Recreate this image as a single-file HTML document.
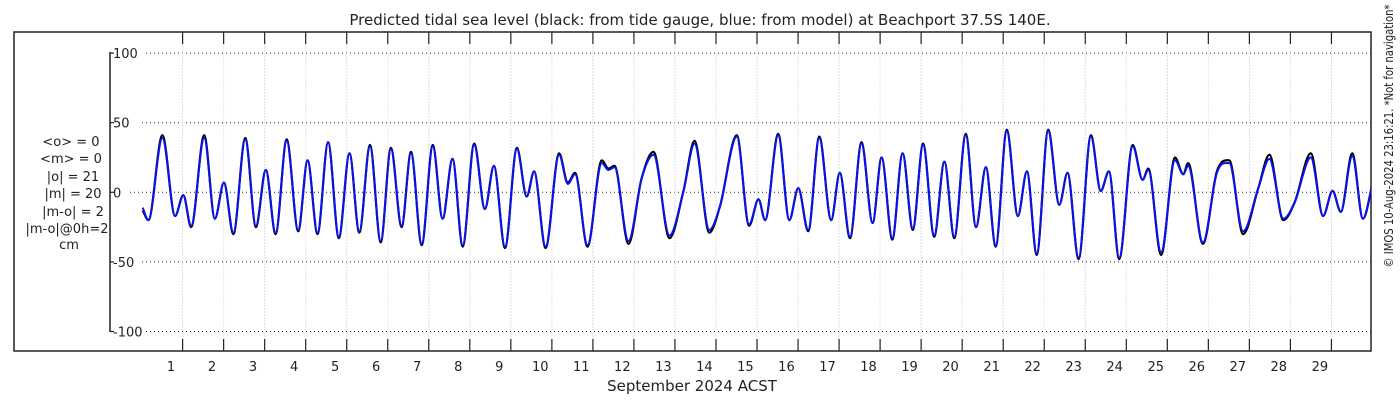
<!DOCTYPE html>
<html><head><meta charset="utf-8"><style>
body{margin:0;background:#fff;}
svg text{font-family:"DejaVu Sans","Liberation Sans",sans-serif;fill:#222;}
</style></head><body>
<svg id="chart" width="1400" height="400" xmlns="http://www.w3.org/2000/svg">
<rect x="0" y="0" width="1400" height="400" fill="#fff"/>
<text x="700" y="25" font-size="15" text-anchor="middle">Predicted tidal sea level (black: from tide gauge, blue: from model) at Beachport 37.5S 140E.</text>
<rect x="14" y="32" width="1357" height="319" fill="none" stroke="#222" stroke-width="1.5"/>
<g id="grid"></g>
<g id="axes"></g>
<clipPath id="clip"><rect x="110" y="32" width="1261" height="319"/></clipPath>
<g id="series" clip-path="url(#clip)"></g>
<g font-size="13" text-anchor="middle">
<text x="71" y="146">&lt;o&gt; = 0</text>
<text x="71" y="163">&lt;m&gt; = 0</text>
<text x="73" y="181">|o| = 21</text>
<text x="73" y="198">|m| = 20</text>
<text x="73" y="216">|m-o| = 2</text>
<text x="67" y="233">|m-o|@0h=2</text>
<text x="69" y="249">cm</text>
</g>
<text x="692" y="391" font-size="15" text-anchor="middle">September 2024 ACST</text>
<text transform="translate(1393,136) rotate(-90)" font-size="12" text-anchor="middle" textLength="263" lengthAdjust="spacingAndGlyphs">© IMOS 10-Aug-2024 23:16:21. *Not for navigation*</text>
</svg>
<script>
const times=[0.31,0.45,0.79,1.10,1.30,1.49,1.81,2.07,2.29,2.52,2.81,3.07,3.31,3.55,3.82,4.10,4.33,4.57,4.83,5.09,5.35,5.59,5.85,6.11,6.36,6.62,6.85,7.11,
7.38,7.62,7.86,8.11,8.39,8.65,8.87,9.14,9.43,9.67,9.85,10.13,10.46,10.67,10.85,11.15,11.50,11.66,11.81,12.15,12.47,12.76,13.15,13.49,13.76,14.12,14.38,14.79,15.09,
15.32,15.48,15.80,16.07,16.29,16.53,16.80,17.09,17.30,17.55,17.83,18.10,18.32,18.58,18.83,19.08,19.33,19.60,19.85,20.09,20.37,20.62,20.86,21.10,21.37,21.64,21.86,22.10,22.38,22.65,22.85,
23.12,23.42,23.66,23.86,24.11,24.44,24.68,24.82,25.13,25.47,25.67,25.79,26.15,26.49,26.79,27.13,27.50,27.77,28.11,28.39,28.78,29.08,29.31,29.51,29.79,30.05,30.31];
const model=[-11,-20,39,-17,-2,-24,39,-19,7,-29,38,-24,16,-29,37,-27,23,-29,36,-32,28,-28,33,-35,31,-24,28,-37,
33,-19,24,-38,34,-12,19,-39,31,-3,15,-39,27,6,13,-38,21,16,18,-35,10,27,-31,1,35,-27,-10,40,-23,
-5,-20,41,-20,3,-27,39,-20,14,-32,35,-22,25,-33,28,-26,34,-31,22,-32,41,-25,18,-38,44,-17,15,-44,44,-9,14,
-47,40,1,15,-47,33,9,16,-43,23,13,19,-36,14,21,-28,3,24,-19,-7,25,-17,1,-14,26,-19,10];
const observed=[-13,-20,41,-17,-2,-25,41,-19,7,-30,39,-25,16,-30,38,-28,23,-30,36,-33,28,-29,34,-36,32,-25,29,-38,
34,-19,24,-39,35,-12,19,-40,32,-3,15,-40,28,7,14,-39,23,17,19,-37,10,29,-33,1,37,-29,-10,41,-24,
-5,-20,42,-20,3,-28,40,-20,14,-33,36,-22,25,-34,28,-27,35,-32,22,-33,42,-25,18,-39,45,-17,15,-45,45,-9,14,
-48,41,1,15,-48,34,9,17,-45,25,13,21,-37,15,23,-30,3,27,-20,-7,28,-17,1,-14,28,-19,10];
const yTicks=[100,50,0,-50,-100];
const dayLabels=[1,2,3,4,5,6,7,8,9,10,11,12,13,14,15,16,17,18,19,20,21,22,23,24,25,26,27,28,29];

const NS='http://www.w3.org/2000/svg';
function x(t){return 171+(t-1)*41.03;}
function y(v){return 192.3-v*1.392;}
function mk(tag,attrs,parent){const e=document.createElementNS(NS,tag);for(const k in attrs)e.setAttribute(k,attrs[k]);parent.appendChild(e);return e;}
const grid=document.getElementById('grid'),axes=document.getElementById('axes'),series=document.getElementById('series');

let ax=mk('line',{x1:110,y1:52,x2:110,y2:332,stroke:'#222','stroke-width':1.5},axes);


yTicks.forEach(v=>{
  const yy=y(v);
  const tk=mk('line',{x1:110,y1:yy,x2:114,y2:yy,stroke:'#222','stroke-width':1.2},axes);
  
  
  const lb=mk('text',{x:113,y:yy+5,'font-size':13},axes);
  lb.textContent=v;
  
  
  const gl=mk('line',{x1:v===100||v===-100?146:v===0?130:142,y1:yy,x2:1371,y2:yy,stroke:'#222','stroke-width':1,'stroke-dasharray':'1,3'},grid);
  
  
});
dayLabels.forEach((d,i)=>{
  const lx=x(d)+11.6;
  const vl=mk('line',{x1:lx,y1:32,x2:lx,y2:351,stroke:i%2?'#f3e2d6':'#d8dcf2','stroke-width':1,'stroke-dasharray':'2,1'},grid);
  
  
  const t1=mk('line',{x1:lx,y1:32,x2:lx,y2:44,stroke:'#222','stroke-width':1.2},axes);
  
  
  const t2=mk('line',{x1:lx,y1:339,x2:lx,y2:351,stroke:'#222','stroke-width':1.2},axes);
  
  
  const lb=mk('text',{x:x(d),y:371,'font-size':13,'text-anchor':'middle'},axes);
  lb.textContent=d;
  
  
});
function pathFor(ts,vs){
  const n=ts.length,px=ts.map(x),py=vs.map(y);
  const m=new Array(n).fill(0),dd=[];
  for(let i=0;i<n-1;i++)dd.push((py[i+1]-py[i])/(px[i+1]-px[i]));
  for(let i=1;i<n-1;i++){m[i]=dd[i-1]*dd[i]<=0?0:(dd[i-1]+dd[i])/2;}
  m[0]=dd[0];m[n-1]=dd[n-2];
  let s='M'+px[0].toFixed(1)+','+py[0].toFixed(1);
  for(let i=0;i<n-1;i++){
    const h=(px[i+1]-px[i])/3;
    s+=' C'+(px[i]+h).toFixed(1)+','+(py[i]+m[i]*h).toFixed(1)+' '+(px[i+1]-h).toFixed(1)+','+(py[i+1]-m[i+1]*h).toFixed(1)+' '+px[i+1].toFixed(1)+','+py[i+1].toFixed(1);
  }
  return s;
}
const po=mk('path',{d:pathFor(times,observed),fill:'none',stroke:'#000','stroke-width':2.2},series);


const pm=mk('path',{d:pathFor(times,model),fill:'none',stroke:'#0a12f0','stroke-width':2},series);


</script>
</body></html>
